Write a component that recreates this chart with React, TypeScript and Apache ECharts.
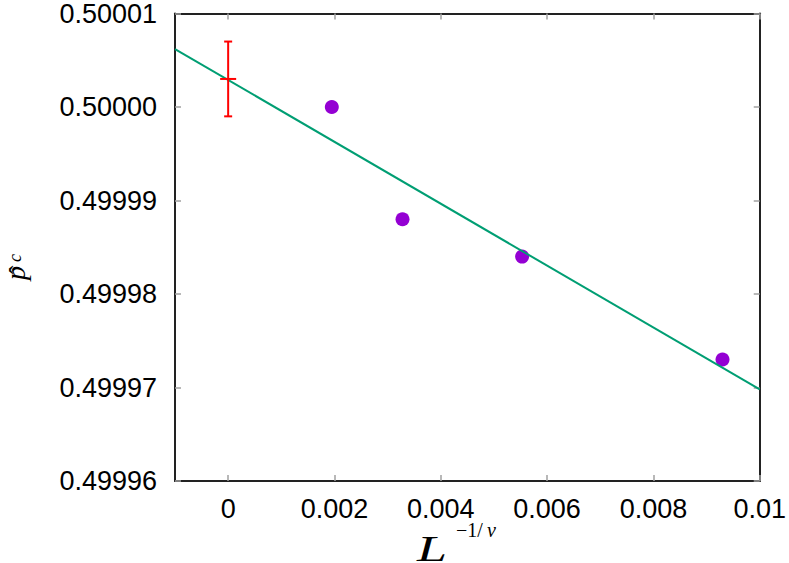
import React, { useEffect, useRef } from "react";
import * as echarts from "echarts";

const xTicks = [0, 0.002, 0.004, 0.006, 0.008, 0.01];
const yTicks = [0.49996, 0.49997, 0.49998, 0.49999, 0.5, 0.50001];
const simX = [0.00195, 0.00328, 0.00553, 0.0093];
const simY = [0.5, 0.499988, 0.499984, 0.499973];
const extrapX = [0];
const extrapY = [0.500003];
const extrapErr = [0.000004];
const fitX = [-0.001, 0.01];
const fitY = [0.5000062, 0.4999698];

const X_MIN = -0.001;
const X_MAX = 0.01;
const Y_MIN = 0.49996;
const Y_MAX = 0.50001;

const serif = "Liberation Serif, DejaVu Serif, serif";

function txt(
  text: string,
  x: number,
  y: number,
  size: number,
  italic: boolean,
  align: string,
  rotation = 0,
  scaleX = 1
) {
  return {
    type: "text",
    x,
    y,
    rotation,
    scaleX,
    z: 100,
    style: {
      text,
      fontSize: size,
      lineHeight: Math.round(size * 0.8),
      fontStyle: italic ? "italic" : "normal",
      fontFamily: serif,
      fill: "#000",
      align,
      verticalAlign: "middle",
      textAlign: align,
      textVerticalAlign: "middle",
    },
  };
}

export default function App() {
  const ref = useRef<HTMLDivElement>(null);
  useEffect(() => {
    if (!ref.current) return;
    const chart = echarts.init(ref.current, null, { renderer: "svg" });
    const labelFont = {
      fontSize: 27,
      fontFamily: "Liberation Sans, Arial, sans-serif",
      color: "#000",
    };
    const tickStyle = { color: "#a0a0a0", width: 1.5 };
    const frameLine = { show: true, onZero: false, lineStyle: { color: "#222", width: 2 } };
    chart.setOption({
      animation: false,
      backgroundColor: "#fff",
      grid: { left: 175, right: 26, top: 12, bottom: 82, containLabel: false },
      xAxis: [
        {
          type: "value",
          min: X_MIN,
          max: X_MAX,
          position: "bottom",
          axisLine: frameLine,
          axisTick: { show: true, inside: true, length: 6, lineStyle: tickStyle, customValues: xTicks },
          axisLabel: {
            ...labelFont,
            margin: 14,
            customValues: xTicks,
            formatter: (v: number) => (v === 0 ? "0" : String(v)),
          },
          splitLine: { show: false },
        },
        {
          type: "value",
          min: X_MIN,
          max: X_MAX,
          position: "top",
          axisLine: frameLine,
          axisTick: { show: true, inside: true, length: 6, lineStyle: tickStyle, customValues: xTicks },
          axisLabel: { show: false },
          splitLine: { show: false },
        },
      ],
      yAxis: [
        {
          type: "value",
          min: Y_MIN,
          max: Y_MAX,
          position: "left",
          axisLine: frameLine,
          axisTick: { show: true, inside: true, length: 6, lineStyle: tickStyle, customValues: yTicks },
          axisLabel: {
            ...labelFont,
            margin: 18,
            customValues: yTicks,
            formatter: (v: number) => v.toFixed(5),
          },
          splitLine: { show: false },
        },
        {
          type: "value",
          min: Y_MIN,
          max: Y_MAX,
          position: "right",
          axisLine: frameLine,
          axisTick: { show: true, inside: true, length: 6, lineStyle: tickStyle, customValues: yTicks },
          axisLabel: { show: false },
          splitLine: { show: false },
        },
      ],
      series: [
        {
          type: "scatter",
          xAxisIndex: 0,
          yAxisIndex: 0,
          z: 2,
          symbol: "circle",
          symbolSize: 14,
          itemStyle: { color: "#9400D3", opacity: 1 },
          data: simX.map((x, i) => [x, simY[i]]),
        },
        {
          type: "line",
          xAxisIndex: 0,
          yAxisIndex: 0,
          z: 3,
          showSymbol: false,
          symbol: "none",
          clip: true,
          lineStyle: { color: "#009E73", width: 2 },
          data: fitX.map((x, i) => [x, fitY[i]]),
        },
        {
          type: "custom",
          xAxisIndex: 0,
          yAxisIndex: 0,
          z: 4,
          encode: { x: 0, y: 1 },
          data: extrapX.map((x, i) => [x, extrapY[i], extrapErr[i]]),
          renderItem: (params: any, api: any) => {
            const x = api.value(0);
            const y = api.value(1);
            const e = api.value(2);
            const top = api.coord([x, y + e]);
            const bot = api.coord([x, y - e]);
            const mid = api.coord([x, y]);
            const st = { stroke: "#ff0000", lineWidth: 2 };
            return {
              type: "group",
              children: [
                { type: "line", shape: { x1: top[0], y1: top[1], x2: bot[0], y2: bot[1] }, style: st },
                { type: "line", shape: { x1: top[0] - 4, y1: top[1], x2: top[0] + 4, y2: top[1] }, style: st },
                { type: "line", shape: { x1: bot[0] - 4, y1: bot[1], x2: bot[0] + 4, y2: bot[1] }, style: st },
                { type: "line", shape: { x1: mid[0] - 8, y1: mid[1], x2: mid[0] + 8, y2: mid[1] }, style: st },
              ],
            };
          },
        },
      ],
      graphic: [
        txt("L", 417, 549, 36, true, "left", 0, 1.5),
        txt("−1/", 456, 530, 20, false, "left"),
        txt("ν", 487, 530, 20, true, "left"),
        txt("p", 15.5, 273, 28, true, "center", Math.PI / 2),
        txt("ˆ", 18.2, 270, 26, false, "center", Math.PI / 2),
        txt("c", 14.5, 258, 18, true, "center", Math.PI / 2),
      ],
    });
    return () => chart.dispose();
  }, []);
  return (
    <div
      ref={ref}
      style={{ position: "absolute", left: 0, top: 0, width: 789, height: 563 }}
    />
  );
}
